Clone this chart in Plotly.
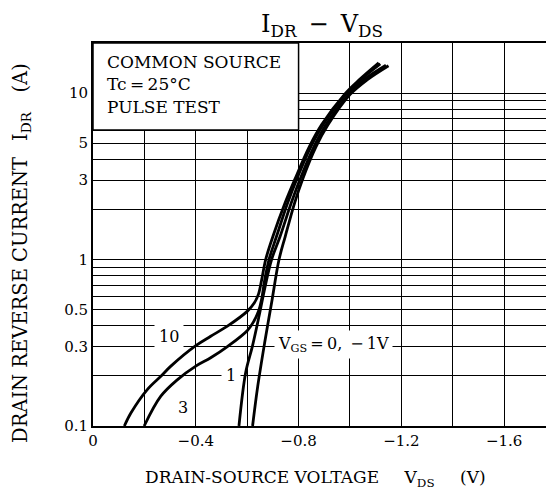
import numpy as np
import plotly.graph_objects as go

# ---- data ----
vgs10_v = [-0.122, -0.148, -0.212, -0.264, -0.303, -0.400, -0.458, -0.523, -0.601, -0.628, -0.644,
           -0.656, -0.672, -0.700, -0.748, -0.785, -0.842, -0.890, -0.978, -1.037, -1.112]
vgs10_i = [0.10, 0.12, 0.166, 0.199, 0.229, 0.304, 0.346, 0.398, 0.49, 0.55, 0.62,
           0.75, 1.0, 1.375, 2.2, 3.02, 4.77, 6.47, 9.8, 12.05, 15.2]

vgs3_v = [-0.199, -0.264, -0.329, -0.400, -0.458, -0.523, -0.601, -0.626, -0.645, -0.656,
          -0.668, -0.685, -0.714, -0.758, -0.792, -0.848, -0.896, -0.983, -1.042, -1.118]
vgs3_i = [0.10, 0.151, 0.19, 0.229, 0.257, 0.30, 0.375, 0.426, 0.494, 0.575,
          0.75, 1.0, 1.375, 2.2, 3.02, 4.77, 6.47, 9.8, 12.05, 15.0]

vgs1_v = [-0.568, -0.594, -0.620, -0.646, -0.670, -0.695, -0.728, -0.772, -0.805, -0.860,
          -0.907, -0.994, -1.055, -1.140]
vgs1_i = [0.10, 0.209, 0.30, 0.456, 0.69, 1.0, 1.375, 2.2, 3.02, 4.77,
          6.47, 9.8, 12.05, 14.7]

vgs0_v = [-0.621, -0.641, -0.668, -0.695, -0.724, -0.748, -0.785, -0.815, -0.868, -0.915,
          -1.000, -1.068, -1.150]
vgs0_i = [0.10, 0.173, 0.316, 0.55, 1.0, 1.375, 2.2, 3.02, 4.77, 6.47,
          9.8, 12.05, 14.6]

x_tickvals = [0, -0.2, -0.4, -0.6, -0.8, -1.0, -1.2, -1.4, -1.6, -1.8]
x_ticktext = ["0", " ", "\u22120.4", " ", "\u22120.8", " ", "\u22121.2", " ", "\u22121.6", " "]
y_tickvals = [0.1, 0.2, 0.3, 0.4, 0.5, 0.6, 0.7, 0.8, 0.9, 1, 2, 3, 4, 5, 6, 7, 8, 9, 10, 20]
y_labels = {0.1: "0.1", 0.3: "0.3", 0.5: "0.5", 1: "1", 3: "3", 5: "5", 10: "10"}
y_ticktext = [y_labels.get(v, " ") for v in y_tickvals]

curve_labels = [("10", -0.295, 0.345), ("1", -0.536, 0.20), ("3", -0.35, 0.129)]
vgs_label = ("V<sub>GS</sub>\u2009=\u20090,\u2002\u2212\u20091V", -0.703, 0.31)
box_lines = ["COMMON SOURCE", "Tc\u2009=\u200925\u00b0C", "PULSE TEST"]

FONT = "DejaVu Serif"
PAGE_PAD = 8                      # default body margin of the page
W, H = 554 - PAGE_PAD, 495 - PAGE_PAD
L, R, T, B = 93 - PAGE_PAD, 0, 43 - PAGE_PAD, 69
x_range = [0, -1.794]
y_range = [-1, np.log10(20)]

fig = go.Figure()
for vv, ii in [(vgs10_v, vgs10_i), (vgs3_v, vgs3_i), (vgs1_v, vgs1_i), (vgs0_v, vgs0_i)]:
    fig.add_trace(go.Scatter(x=vv, y=ii, mode="lines",
                             line=dict(color="black", width=2.8, shape="spline", smoothing=1.0),
                             showlegend=False, hoverinfo="skip"))

# legend box (covers grid)
box_x1 = 0.8 / abs(x_range[1])
box_y0 = (np.log10(6) - y_range[0]) / (y_range[1] - y_range[0])
fig.add_shape(type="rect", xref="paper", yref="paper", x0=0, x1=box_x1, y0=box_y0, y1=1,
              fillcolor="white", line=dict(color="black", width=1.5), layer="above")

plot_w = W - L - R
plot_h = H - T - B


def px_x(px):
    return (px - PAGE_PAD - L) / plot_w


def px_y(py):
    return (H - B - (py - PAGE_PAD)) / plot_h


box_ys = [62, 84, 107]
for txt, py in zip(box_lines, box_ys):
    fig.add_annotation(text=txt, xref="paper", yref="paper", x=px_x(105), y=px_y(py),
                       xanchor="left", yanchor="middle", showarrow=False,
                       font=dict(family=FONT, size=17, color="black"))

for txt, xv, yv in curve_labels:
    fig.add_annotation(text=txt, x=xv, y=np.log10(yv), showarrow=False, bgcolor="white", borderpad=4,
                       xanchor="center", yanchor="middle",
                       font=dict(family=FONT, size=16, color="black"))
fig.add_annotation(text=vgs_label[0], x=vgs_label[1], y=np.log10(vgs_label[2]), xanchor="left",
                   yanchor="middle", showarrow=False, bgcolor="white", borderpad=3,
                   font=dict(family=FONT, size=16, color="black"))

# title and axis titles
fig.add_annotation(text="I<sub>DR</sub>\u2002\u2212\u2002V<sub>DS</sub>", xref="paper", yref="paper",
                   x=px_x(322), y=px_y(26), xanchor="center", yanchor="middle", showarrow=False,
                   font=dict(family=FONT, size=24, color="black"))
fig.add_annotation(text="DRAIN-SOURCE VOLTAGE\u2003\u2002V<sub>DS</sub>\u2003\u2002(V)", xref="paper",
                   yref="paper", x=px_x(315), y=px_y(479), xanchor="center", yanchor="middle",
                   showarrow=False, font=dict(family=FONT, size=17, color="black"))
fig.add_annotation(text="DRAIN REVERSE CURRENT\u2002 I<sub>DR</sub>\u2003(A)", xref="paper",
                   yref="paper", x=px_x(21), y=px_y(253), xanchor="center", yanchor="middle",
                   showarrow=False, textangle=-90,
                   font=dict(family=FONT, size=19.5, color="black"))

fig.update_layout(
    template="none",
    width=W, height=H, margin=dict(l=L, r=R, t=T, b=B, autoexpand=False),
    paper_bgcolor="white", plot_bgcolor="white",
    xaxis=dict(range=x_range, tickmode="array", tickvals=x_tickvals, ticktext=x_ticktext,
               showgrid=True, gridcolor="black", gridwidth=1.2, zeroline=False, automargin=False,
               showline=True, linecolor="black", linewidth=2, mirror=True, ticks="",
               tickfont=dict(family=FONT, size=15, color="black")),
    yaxis=dict(type="log", range=y_range, tickmode="array", tickvals=y_tickvals, ticktext=y_ticktext,
               showgrid=True, gridcolor="black", gridwidth=1.2, zeroline=False, automargin=False,
               showline=True, linecolor="black", linewidth=2, mirror=False, ticks="",
               tickfont=dict(family=FONT, size=15, color="black")),
)
fig.write_html("out.html")
